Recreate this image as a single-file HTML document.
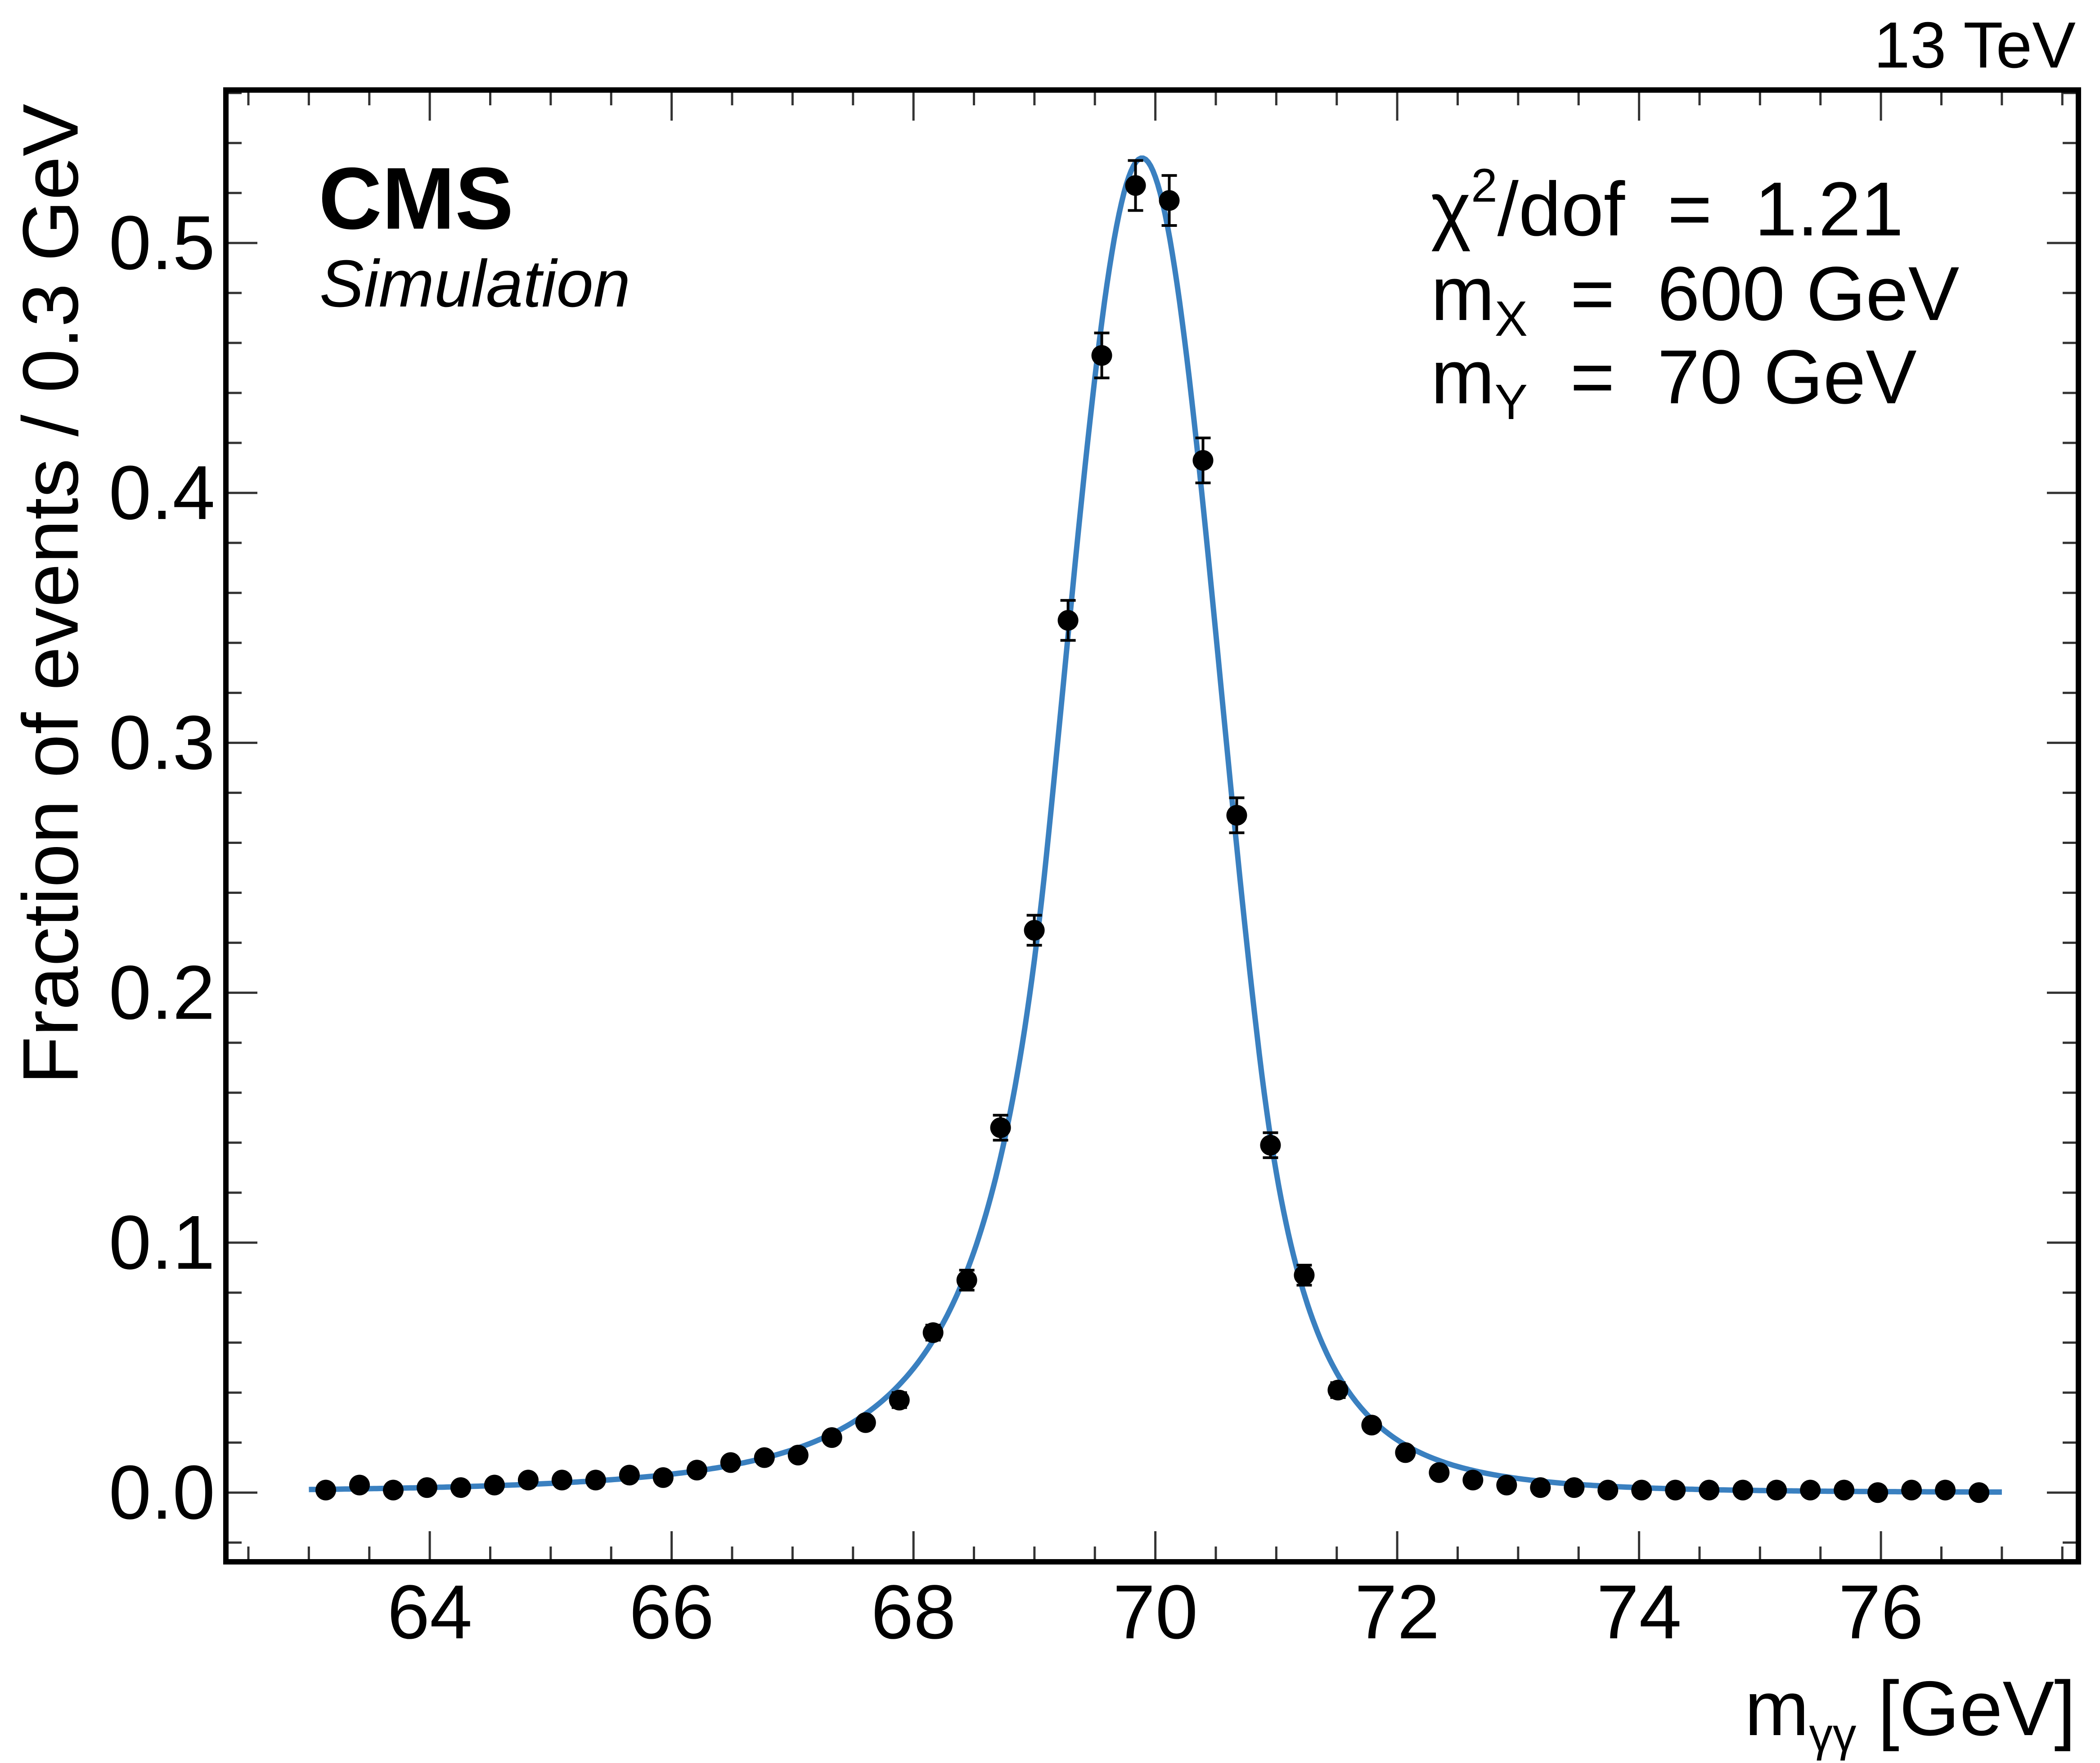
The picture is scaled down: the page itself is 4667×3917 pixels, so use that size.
<!DOCTYPE html>
<html><head><meta charset="utf-8"><style>
html,body{margin:0;padding:0;background:#fff;}
svg{display:block;font-family:"Liberation Sans",Arial,sans-serif;}
</style></head><body>
<svg id="chart" width="4667" height="3917" viewBox="0 0 4667 3917" xmlns="http://www.w3.org/2000/svg">
<rect width="4667" height="3917" fill="#fff"/>
<g id="ticks"></g>
<g id="curve"></g>
<g id="points"></g>
<rect x="502" y="200" width="4117" height="3270" fill="none" stroke="#000" stroke-width="12"/>
<g id="labels" font-size="170" fill="#000"></g>
<text x="113" y="1320" transform="rotate(-90 113 1320)" text-anchor="middle" dominant-baseline="central" font-size="175">Fraction of events / 0.3 GeV</text>
<text x="4613" y="3855" text-anchor="end" font-size="172">m<tspan font-size="105" dy="35">γγ</tspan><tspan dy="-35"> [GeV]</tspan></text>
<text x="4613" y="150" text-anchor="end" font-size="145">13 TeV</text>
<text x="708" y="508" font-size="195" font-weight="bold">CMS</text>
<text x="710" y="681" font-size="148" font-style="italic">Simulation</text>
<g font-size="170">
<text x="3180" y="523" xml:space="preserve">χ<tspan font-size="105" dy="-75">2</tspan><tspan dy="75">/dof  =  1.21</tspan></text>
<text x="3180" y="711" xml:space="preserve">m<tspan font-size="110" dy="35">X</tspan><tspan dy="-35">  =  600 GeV</tspan></text>
<text x="3180" y="896" xml:space="preserve">m<tspan font-size="110" dy="35">Y</tspan><tspan dy="-35">  =  70 GeV</tspan></text>
</g>
</svg>
<script>
const binCenters0 = 63.14;
const binWidth = 0.279;
const values = [0.001,0.003,0.001,0.002,0.002,0.003,0.005,0.005,0.005,0.007,0.006,0.009,0.012,0.014,0.015,0.022,0.028,0.037,0.064,0.085,0.146,0.225,0.349,0.455,0.523,0.517,0.413,0.271,0.139,0.087,0.041,0.027,0.016,0.008,0.005,0.003,0.002,0.002,0.001,0.001,0.001,0.001,0.001,0.001,0.001,0.001,0.000,0.001,0.001,0.000];
const errors = [0.001,0.001,0.001,0.001,0.001,0.001,0.001,0.001,0.001,0.001,0.001,0.001,0.002,0.002,0.002,0.002,0.002,0.003,0.003,0.004,0.005,0.006,0.008,0.009,0.010,0.010,0.009,0.007,0.005,0.004,0.003,0.002,0.002,0.001,0.001,0.001,0.001,0.001,0.001,0.001,0.001,0.001,0.001,0.001,0.001,0.001,0.001,0.001,0.001,0.001];
const fitParams = [0.534, 69.89, 0.65, 1.2, 4, 1.5, 5]; // norm, mu, sigma, alphaL, nL, alphaR, nR
const fitRange = [63.0, 77.0];
const xTicks = [64,66,68,70,72,74,76];
const yTicks = [0.0,0.1,0.2,0.3,0.4,0.5];

const X0=502,X1=4619,Y0=3470,Y1=200;
const xmin=62.314,xmax=77.633,ymin=-0.0277,ymax=0.5612;
const sx=v=>X0+(v-xmin)/(xmax-xmin)*(X1-X0);
const sy=v=>Y0-(v-ymin)/(ymax-ymin)*(Y0-Y1);
const NS="http://www.w3.org/2000/svg";
function mk(t,a,p){const e=document.createElementNS(NS,t);for(const k in a)e.setAttribute(k,a[k]);p.appendChild(e);return e;}

function dscb(x){
  const [N,mu,s,aL,nL,aR,nR]=fitParams;
  const t=(x-mu)/s;
  if(t<-aL){const A=Math.pow(nL/aL,nL)*Math.exp(-aL*aL/2),B=nL/aL-aL;return N*A*Math.pow(B-t,-nL);}
  if(t>aR){const A=Math.pow(nR/aR,nR)*Math.exp(-aR*aR/2),B=nR/aR-aR;return N*A*Math.pow(B+t,-nR);}
  return N*Math.exp(-t*t/2);
}

const tk=document.getElementById('ticks');
for(let v=62.5;v<=77.6;v+=0.5){
  const major=Math.abs(v-Math.round(v))<1e-6&&Math.round(v)%2===0;
  const L=major?68:34,x=sx(v);
  let l=mk('line',{x1:x,x2:x,y1:Y0,y2:Y0-L,stroke:'#333','stroke-width':5},tk);
  
  
  l=mk('line',{x1:x,x2:x,y1:Y1,y2:Y1+L,stroke:'#333','stroke-width':5},tk);
  
  
}
for(let i=-1;i<=28;i++){
  const v=i*0.02;if(v<ymin||v>ymax)continue;
  const major=i%5===0,L=major?70:35,y=sy(v);
  let l=mk('line',{x1:X0,x2:X0+L,y1:y,y2:y,stroke:'#333','stroke-width':5},tk);
  
  
  l=mk('line',{x1:X1,x2:X1-L,y1:y,y2:y,stroke:'#333','stroke-width':5},tk);
  
  
}
const lb=document.getElementById('labels');
xTicks.forEach(v=>{const t=mk('text',{x:sx(v),y:3640,'text-anchor':'middle'},lb);t.textContent=v;
  
  });
yTicks.forEach(v=>{const t=mk('text',{x:478,y:sy(v),'text-anchor':'end','dominant-baseline':'central'},lb);t.textContent=v.toFixed(1);
  
  });

const cg=document.getElementById('curve');
let d='';
for(let i=0;i<=700;i++){const x=fitRange[0]+(fitRange[1]-fitRange[0])*i/700;d+=(i?'L':'M')+sx(x).toFixed(1)+' '+sy(dscb(x)).toFixed(1);}
const path=mk('path',{d:d,fill:'none',stroke:'#3a80c0','stroke-width':12,'stroke-linejoin':'round'},cg);



const pg=document.getElementById('points');
values.forEach((v,i)=>{
  const x=sx(binCenters0+i*binWidth),e=errors[i];
  const yt=sy(v+e),yb=sy(v-e);
  const g=mk('g',{},pg);
  
  
  mk('line',{x1:x,x2:x,y1:yt,y2:yb,stroke:'#000','stroke-width':6},g);
  mk('line',{x1:x-17,x2:x+17,y1:yt,y2:yt,stroke:'#000','stroke-width':6},g);
  mk('line',{x1:x-17,x2:x+17,y1:yb,y2:yb,stroke:'#000','stroke-width':6},g);
  mk('circle',{cx:x,cy:sy(v),r:23,fill:'#000'},g);
});
</script>
</body></html>
